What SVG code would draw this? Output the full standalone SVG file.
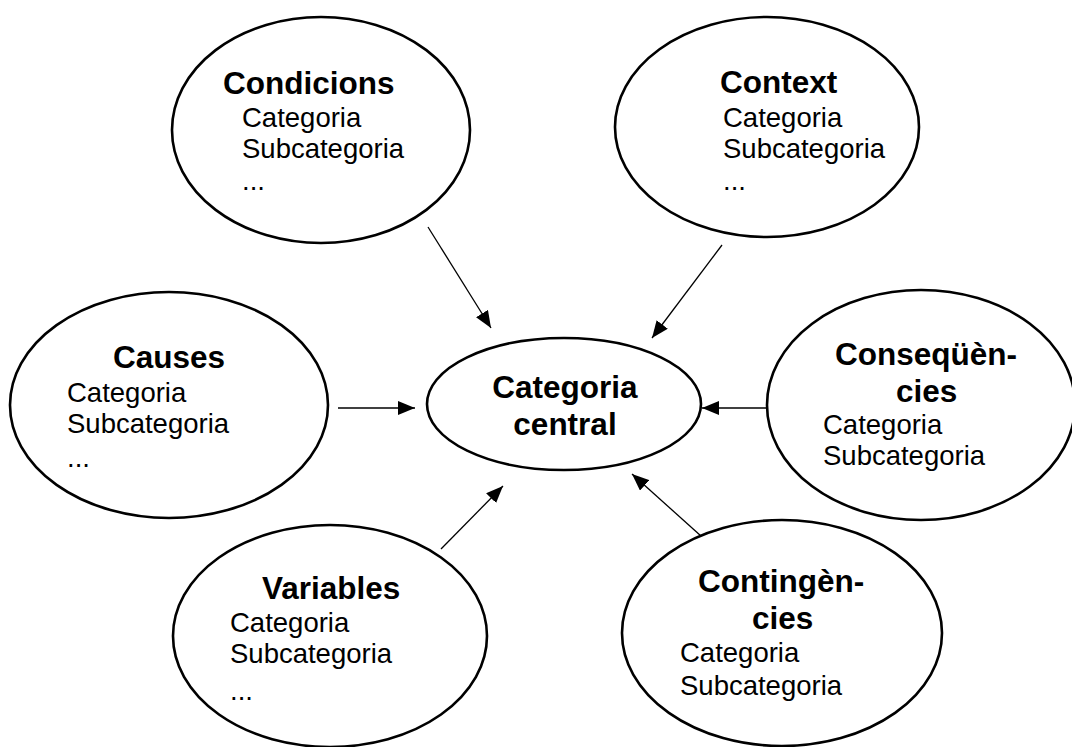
<svg xmlns="http://www.w3.org/2000/svg" width="1072" height="747" viewBox="0 0 1072 747">
  <style>
    .node ellipse { fill: #ffffff; stroke: #000000; stroke-width: 2.6; }
    .title { font-family: "Liberation Sans", Arial, sans-serif; font-weight: bold; font-size: 31.5px; fill: #000; }
    .item { font-family: "Liberation Sans", Arial, sans-serif; font-size: 27.5px; fill: #000; }
    .link { stroke: #000; stroke-width: 1.3; fill: none; marker-end: url(#arrow); }
  </style>
  <defs>
    <marker id="arrow" markerUnits="userSpaceOnUse" markerWidth="18" markerHeight="14" refX="17" refY="7" orient="auto">
      <path d="M0,0 L17,7 L0,14 z" fill="#000"/>
    </marker>
  </defs>
  <rect width="1072" height="747" fill="#ffffff"/>

  <g id="connectors">
    <line class="link" x1="428" y1="227" x2="491" y2="328"/>
    <line class="link" x1="722" y1="245" x2="652" y2="338"/>
    <line class="link" x1="338" y1="408" x2="415" y2="408"/>
    <line class="link" x1="776" y1="408" x2="702" y2="408"/>
    <line class="link" x1="441" y1="549" x2="503" y2="486"/>
    <line class="link" x1="701" y1="536" x2="632" y2="474"/>
  </g>

  <g id="condicions" class="node">
    <ellipse cx="321" cy="130" rx="149" ry="113"/>
    <text class="title" x="223" y="94">Condicions</text>
    <text class="item" x="242" y="127">Categoria</text>
    <text class="item" x="242" y="158">Subcategoria</text>
    <text class="item" x="242" y="190">...</text>
  </g>

  <g id="context" class="node">
    <ellipse cx="767" cy="127" rx="152" ry="110"/>
    <text class="title" x="720" y="93">Context</text>
    <text class="item" x="723" y="127">Categoria</text>
    <text class="item" x="723" y="158">Subcategoria</text>
    <text class="item" x="723" y="190">...</text>
  </g>

  <g id="causes" class="node">
    <ellipse cx="169" cy="405" rx="159" ry="113"/>
    <text class="title" x="113" y="368">Causes</text>
    <text class="item" x="67" y="402">Categoria</text>
    <text class="item" x="67" y="433">Subcategoria</text>
    <text class="item" x="67" y="467">...</text>
  </g>

  <g id="central" class="node">
    <ellipse cx="564" cy="404" rx="137" ry="66"/>
    <text class="title" x="565" y="398" text-anchor="middle">Categoria</text>
    <text class="title" x="565" y="435" text-anchor="middle">central</text>
  </g>

  <g id="consequencies" class="node">
    <ellipse cx="921" cy="405" rx="154" ry="115"/>
    <text class="title" x="835" y="365">Conseqüèn-</text>
    <text class="title" x="896" y="402">cies</text>
    <text class="item" x="823" y="434">Categoria</text>
    <text class="item" x="823" y="465">Subcategoria</text>
  </g>

  <g id="variables" class="node">
    <ellipse cx="330" cy="636" rx="157" ry="111"/>
    <text class="title" x="262" y="599">Variables</text>
    <text class="item" x="230" y="632">Categoria</text>
    <text class="item" x="230" y="663">Subcategoria</text>
    <text class="item" x="230" y="700">...</text>
  </g>

  <g id="contingencies" class="node">
    <ellipse cx="782" cy="633" rx="160" ry="113"/>
    <text class="title" x="698" y="592">Contingèn-</text>
    <text class="title" x="752" y="629">cies</text>
    <text class="item" x="680" y="662">Categoria</text>
    <text class="item" x="680" y="695">Subcategoria</text>
  </g>
</svg>
